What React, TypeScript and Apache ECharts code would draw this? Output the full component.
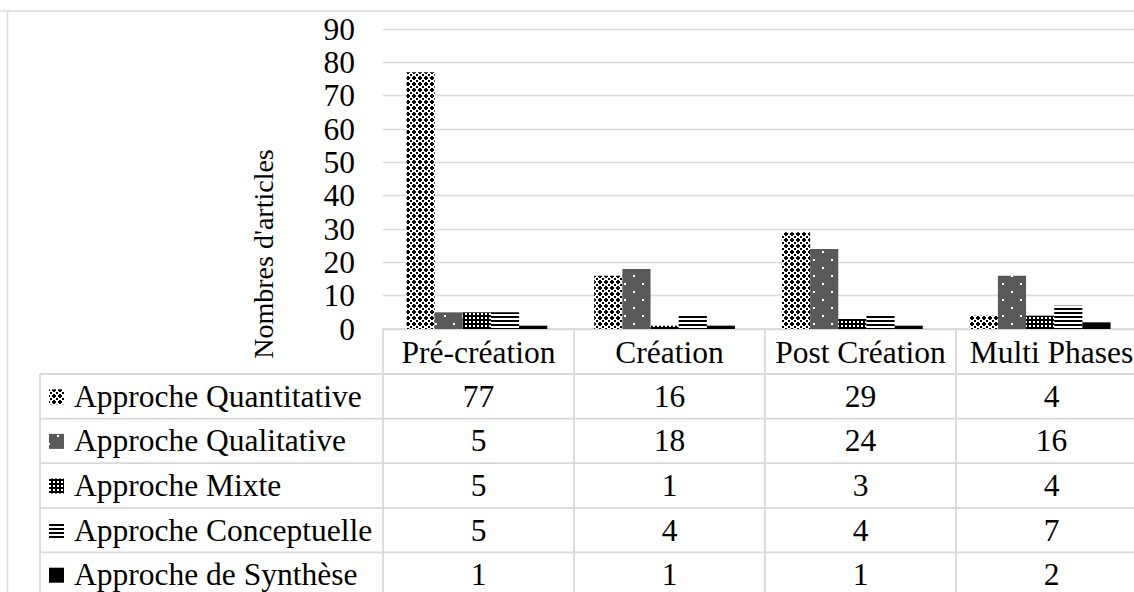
import React, { useEffect, useRef } from 'react';
import * as echarts from 'echarts';

const categories = ['Pré-création', 'Création', 'Post Création', 'Multi Phases'];
const seriesNames = [
  'Approche Quantitative',
  'Approche Qualitative',
  'Approche Mixte',
  'Approche Conceptuelle',
  'Approche de Synthèse',
];
const quantitative = [77, 16, 29, 4];
const qualitative = [5, 18, 24, 16];
const mixte = [5, 1, 3, 4];
const conceptuelle = [5, 4, 4, 7];
const synthese = [1, 1, 1, 2];
const yMin = 0;
const yMax = 90;
const yInterval = 10;
const yAxisTitle = "Nombres d'articles";

const FONT = 'Liberation Serif';
const GRIDC = '#d9d9d9';

function makePattern(rows: string[], fg: string, bg: string) {
  const h = rows.length;
  const w = rows[0].length;
  const c = document.createElement('canvas');
  c.width = w;
  c.height = h;
  const ctx = c.getContext('2d')!;
  ctx.fillStyle = bg;
  ctx.fillRect(0, 0, w, h);
  ctx.fillStyle = fg;
  rows.forEach((r, y) => {
    for (let x = 0; x < w; x++) if (r[x] === '#') ctx.fillRect(x, y, 1, 1);
  });
  return { image: c, repeat: 'repeat', imageWidth: w, imageHeight: h } as any;
}

function dotRows(w: number, h: number, dots: [number, number][]) {
  const rows: string[] = [];
  for (let y = 0; y < h; y++) {
    let s = '';
    for (let x = 0; x < w; x++) {
      const on = dots.some(([dx, dy]) => x >= dx && x < dx + 2 && y >= dy && y < dy + 2);
      s += on ? '#' : '.';
    }
    rows.push(s);
  }
  return rows;
}

export default function App() {
  const ref = useRef<HTMLDivElement>(null);
  useEffect(() => {
    if (!ref.current) return;
    const chart = echarts.init(ref.current, undefined, { renderer: 'svg' });

    const fills = [
      makePattern(['##..##', '#....#', '..##..', '..##..', '#....#', '##..##'], '#000', '#fff'),
      makePattern(dotRows(18, 16, [[3, 3], [12, 11]]), '#ffffff', '#595959'),
      makePattern(['####', '#..#', '#..#', '####'], '#000', '#fff'),
      makePattern(['#', '#', '.', '.'], '#000', '#fff'),
      '#000000',
    ];
    const seriesData = [quantitative, qualitative, mixte, conceptuelle, synthese];

    const gridLeft = 383;
    const gridTop = 29;
    const gridH = 300;
    const gridW = 764;
    const colW = gridW / categories.length;
    const tableTop = gridTop + gridH;
    const headerH = 45;
    const rowH = 44.6;
    const labelLeft = 40;
    const right = gridLeft + gridW;
    const bottom = 600;

    const graphics: any[] = [];
    const line = (x1: number, y1: number, x2: number, y2: number, w = 1.5) =>
      graphics.push({
        type: 'line',
        silent: true,
        shape: { x1, y1, x2, y2 },
        style: { stroke: GRIDC, lineWidth: w },
      });
    // outer frame
    line(0, 11, 1134, 11, 1.5);
    line(7.5, 11, 7.5, 592, 1.5);
    // table lines
    line(gridLeft, tableTop, right, tableTop, 1.8);
    for (let i = 0; i <= seriesNames.length; i++) {
      const y = tableTop + headerH + i * rowH;
      line(labelLeft, y, right, y, 1.8);
    }
    for (let j = 0; j <= categories.length; j++) {
      const x = gridLeft + j * colW;
      line(x, tableTop, x, bottom, 1.8);
    }
    line(labelLeft, tableTop + headerH, labelLeft, bottom, 1.8);

    const txt = (text: string, x: number, y: number, align: string, size = 31.5) =>
      graphics.push({
        type: 'text',
        silent: true,
        x,
        y,
        style: {
          text,
          fill: '#000',
          fontFamily: FONT,
          fontSize: size,
          align,
          verticalAlign: 'middle',
        },
      });

    categories.forEach((c, j) => txt(c, gridLeft + (j + 0.5) * colW, tableTop + headerH / 2 + 1, 'center'));
    seriesNames.forEach((n, i) => {
      const cy = tableTop + headerH + (i + 0.5) * rowH;
      graphics.push({
        type: 'rect',
        silent: true,
        shape: { x: 49, y: cy - 7, width: 15, height: 15 },
        style: { fill: fills[i] },
      });
      txt(n, 74, cy, 'left');
      seriesData[i].forEach((v, j) => txt(String(v), gridLeft + (j + 0.5) * colW, cy, 'center'));
    });

    graphics.push({
      type: 'text',
      silent: true,
      x: 263,
      y: 254,
      rotation: Math.PI / 2,
      style: {
        text: yAxisTitle,
        fill: '#000',
        fontFamily: FONT,
        fontSize: 28,
        align: 'center',
        verticalAlign: 'middle',
      },
    });

    chart.setOption({
      animation: false,
      backgroundColor: '#ffffff',
      textStyle: { fontFamily: FONT },
      grid: { left: gridLeft, top: gridTop, width: gridW, height: gridH, containLabel: false },
      xAxis: {
        type: 'category',
        data: categories,
        boundaryGap: true,
        axisLine: { show: false },
        axisTick: { show: false },
        axisLabel: { show: false },
      },
      yAxis: {
        type: 'value',
        min: yMin,
        max: yMax,
        interval: yInterval,
        axisLine: { show: false },
        axisTick: { show: false },
        axisLabel: {
          fontFamily: FONT,
          fontSize: 31.5,
          color: '#000',
          margin: 28,
        },
        splitLine: { lineStyle: { color: GRIDC, width: 1.3 } },
      },
      series: seriesData.map((d, i) => ({
        type: 'bar',
        name: seriesNames[i],
        data: d,
        barGap: '0%',
        barCategoryGap: '25%',
        silent: true,
        itemStyle: { color: fills[i] },
      })),
      graphic: graphics,
    });

    return () => chart.dispose();
  }, []);

  return (
    <div
      ref={ref}
      style={{ position: 'absolute', left: 0, top: 0, width: 1134, height: 592, background: '#fff' }}
    />
  );
}
